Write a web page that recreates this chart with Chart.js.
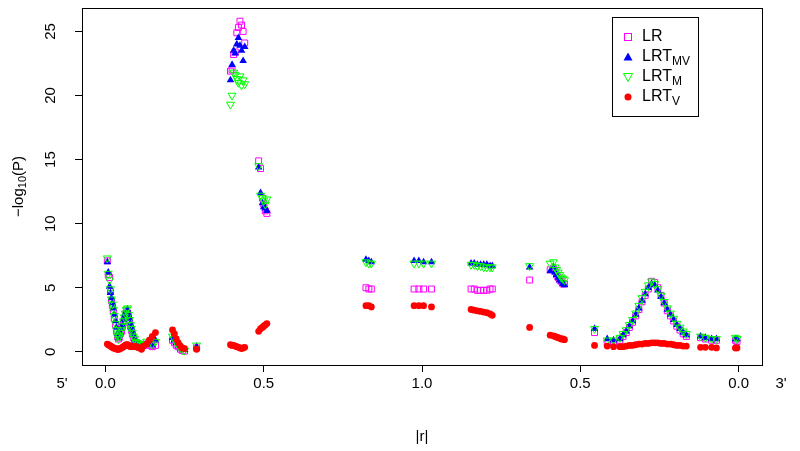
<!DOCTYPE html>
<html>
<head>
<meta charset="utf-8">
<script src="https://cdn.jsdelivr.net/npm/chart.js@4.4.1/dist/chart.umd.min.js"></script>
<style>
  html, body { margin: 0; padding: 0; background: #fff; }
</style>
</head>
<body>
<canvas id="myChart" width="800" height="451"></canvas>
<script>
// positions along the folded |r| axis (0 -> 1 -> 0, drawn as 0..2)
var pos = [
  0.006, 0.009, 0.013, 0.016, 0.019, 0.022, 0.025, 0.028, 0.032, 0.035,
  0.038, 0.041, 0.044, 0.047, 0.051, 0.054, 0.057, 0.060, 0.063, 0.066,
  0.070, 0.073, 0.076, 0.079, 0.082, 0.085, 0.088, 0.092, 0.095, 0.101,
  0.107, 0.114, 0.120, 0.130, 0.139, 0.148, 0.158,
  0.212, 0.218, 0.224, 0.230, 0.237, 0.243, 0.250, 0.288,
  0.395, 0.400, 0.405, 0.410, 0.415, 0.420, 0.425, 0.430, 0.435, 0.440,
  0.484, 0.490, 0.496, 0.500, 0.505, 0.510,
  0.823, 0.832, 0.840,
  0.975, 0.990, 1.005, 1.030,
  1.155, 1.165, 1.175, 1.185, 1.195, 1.205, 1.215, 1.222,
  1.340,
  1.405, 1.415, 1.420, 1.425, 1.430, 1.435, 1.440, 1.445, 1.450,
  1.545, 1.585, 1.605,
  1.625, 1.635, 1.645, 1.655, 1.665, 1.675, 1.685, 1.695, 1.705, 1.715, 1.725,
  1.735, 1.745, 1.755, 1.765, 1.775, 1.785, 1.795, 1.805, 1.815, 1.825, 1.835,
  1.880, 1.895, 1.915, 1.930, 1.990, 1.995
];

var lrVals = [
  7.1, 6.0, 5.8, 4.7, 4.0, 3.6, 3.2, 2.6, 2.1, 1.6,
  1.2, 1.0, 1.1, 1.4, 1.6, 2.0, 2.3, 2.6, 2.9, 3.2,
  3.0, 2.8, 2.4, 2.0, 1.7, 1.4, 1.1, 0.9, 0.7, 0.6,
  0.5, 0.45, 0.5, 0.6, 0.5, 0.4, 0.5,
  0.9, 0.7, 0.5, 0.4, 0.2, 0.1, 0.05, 0.3,
  21.9, 22.0, 23.2, 23.4, 24.9, 25.3, 25.8, 25.5, 25.0, 24.1,
  14.9, 14.3, 12.0, 11.5, 11.0, 10.8,
  5.0, 4.9, 4.9,
  4.9, 4.9, 4.9, 4.9,
  4.9, 4.9, 4.8, 4.8, 4.8, 4.8, 4.9, 4.9,
  5.6,
  6.4, 6.5, 6.3, 6.0, 5.8, 5.6, 5.5, 5.3, 5.3,
  1.5, 0.7, 0.7,
  0.9, 1.2, 1.5, 1.9, 2.3, 2.8, 3.3, 3.9, 4.4, 4.9, 5.5,
  5.4, 5.0, 4.4, 3.8, 3.2, 2.8, 2.4, 2.0, 1.7, 1.4, 1.2,
  1.1, 1.0, 0.9, 0.9, 0.9, 0.8
];

var mvVals = [
  7.0, 6.2, 5.1, 4.6, 4.2, 3.8, 3.4, 2.9, 2.4, 1.9,
  1.4, 1.1, 1.3, 1.5, 1.8, 2.1, 2.5, 2.8, 3.0, 3.2,
  3.3, 2.9, 2.6, 2.2, 1.9, 1.6, 1.3, 1.0, 0.8, 0.7,
  0.6, 0.5, 0.6, 0.7, 0.6, 0.5, 0.9,
  1.1, 0.9, 0.7, 0.5, 0.3, 0.2, 0.15, 0.4,
  21.2, 22.4, 23.5, 23.3, 24.0, 24.5, 23.9, 23.5, 22.7, 23.8,
  14.4, 12.4, 11.6, 11.3, 11.2, 11.0,
  7.2, 7.1, 7.0,
  7.1, 7.1, 7.0, 7.0,
  6.9, 6.9, 6.8, 6.8, 6.8, 6.8, 6.7, 6.7,
  6.6,
  6.3, 6.6, 6.2, 6.0, 5.8, 5.6, 5.5, 5.3, 5.2,
  1.8, 1.0, 0.9,
  1.0, 1.3, 1.6, 2.0, 2.4, 2.9, 3.4, 4.0, 4.5, 5.0, 5.3,
  5.2, 4.8, 4.3, 3.8, 3.3, 2.9, 2.5, 2.1, 1.8, 1.5, 1.3,
  1.2, 1.1, 1.0, 1.0, 1.0, 1.0
];

var mVals = [
  7.3, 6.1, 5.6, 4.9, 4.1, 3.7, 3.3, 2.8, 2.2, 1.7,
  1.3, 1.0, 1.2, 1.5, 1.7, 2.0, 2.4, 2.7, 3.0, 3.3,
  3.4, 2.9, 2.5, 2.1, 1.8, 1.5, 1.2, 1.0, 0.8, 0.7,
  0.6, 0.55, 0.6, 0.8, 0.7, 0.6, 0.8,
  1.2, 1.0, 0.7, 0.5, 0.3, 0.15, 0.1, 0.5,
  19.3, 20.0, 21.8, 21.6, 21.3, 21.0, 21.5, 20.8, 21.2, 20.9,
  14.5, 12.2, 12.0, 11.8, 11.5, 11.9,
  7.0, 6.9, 6.9,
  6.9, 6.9, 6.9, 6.9,
  6.8, 6.8, 6.7, 6.7, 6.6, 6.6, 6.6, 6.6,
  6.7,
  6.9, 7.0, 6.6, 6.4, 6.2, 6.0, 5.8, 5.7, 5.6,
  1.8, 0.9, 0.9,
  1.1, 1.4, 1.7, 2.1, 2.5, 3.0, 3.6, 4.2, 4.7, 5.2, 5.5,
  5.3, 4.9, 4.4, 3.9, 3.4, 3.0, 2.6, 2.2, 1.9, 1.6, 1.4,
  1.2, 1.1, 1.0, 1.0, 1.1, 1.0
];

var vVals = [
  0.60, 0.55, 0.50, 0.45, 0.40, 0.35, 0.30, 0.28, 0.25, 0.22,
  0.20, 0.20, 0.22, 0.25, 0.30, 0.35, 0.40, 0.45, 0.50, 0.55,
  0.55, 0.50, 0.45, 0.42, 0.40, 0.40, 0.42, 0.45, 0.40, 0.35,
  0.30, 0.20, 0.45, 0.60, 0.90, 1.20, 1.50,
  1.70, 1.40, 1.00, 0.70, 0.45, 0.30, 0.25, 0.20,
  0.55, 0.50, 0.50, 0.45, 0.40, 0.35, 0.30, 0.25, 0.30, 0.35,
  1.60, 1.80, 1.90, 2.00, 2.10, 2.20,
  3.6, 3.6, 3.5,
  3.6, 3.6, 3.6, 3.5,
  3.30, 3.25, 3.20, 3.15, 3.10, 3.05, 2.95, 2.85,
  1.90,
  1.30, 1.25, 1.20, 1.15, 1.10, 1.05, 1.00, 1.00, 0.95,
  0.50, 0.45, 0.40,
  0.40, 0.40, 0.45, 0.50, 0.50, 0.55, 0.60, 0.60, 0.65, 0.65, 0.70,
  0.70, 0.70, 0.65, 0.65, 0.60, 0.60, 0.55, 0.50, 0.50, 0.45, 0.45,
  0.35, 0.35, 0.35, 0.30, 0.30, 0.30
];

var xTickVals = [0, 0.5, 1, 1.5, 2];
var xTickLabels = ['0.0', '0.5', '1.0', '0.5', '0.0'];
var yTickVals = [0, 5, 10, 15, 20, 25];

var FONT = '"Liberation Sans", Arial, Helvetica, sans-serif';

function toPoints(vals) {
    return pos.map(function (x, i) { return { x: x, y: vals[i] }; });
}

// box, rotated y labels, titles, end labels and the legend (R style)
var framePlugin = {
    id: 'frame',
    afterDraw: function (c) {
        var ctx = c.ctx;
        var a = c.chartArea;
        var ys = c.scales.y;
        ctx.save();
        ctx.strokeStyle = '#000';
        ctx.lineWidth = 1;
        ctx.strokeRect(Math.round(a.left) + 0.5, Math.round(a.top) + 0.5,
                       Math.round(a.right - a.left), Math.round(a.bottom - a.top));

        ctx.fillStyle = '#000';
        ctx.font = '15px ' + FONT;
        ctx.textAlign = 'center';
        ctx.textBaseline = 'middle';
        // y tick labels, parallel to the axis
        ys.ticks.forEach(function (t) {
            var py = ys.getPixelForValue(t.value);
            ctx.save();
            ctx.translate(51, py);
            ctx.rotate(-Math.PI / 2);
            ctx.fillText(String(t.value), 0, 0);
            ctx.restore();
        });

        // y title: -log10(P)
        ctx.save();
        ctx.translate(19, (a.top + a.bottom) / 2);
        ctx.rotate(-Math.PI / 2);
        var big = '15px ' + FONT, small = '11px ' + FONT;
        ctx.font = big; var w1 = ctx.measureText('\u2212log').width;
        ctx.font = small; var w2 = ctx.measureText('10').width;
        ctx.font = big; var w3 = ctx.measureText('(P)').width;
        var sx = -(w1 + w2 + w3) / 2;
        ctx.textAlign = 'left';
        ctx.font = big; ctx.fillText('\u2212log', sx, 0);
        ctx.font = small; ctx.fillText('10', sx + w1, 4);
        ctx.font = big; ctx.fillText('(P)', sx + w1 + w2, 0);
        ctx.restore();

        // x title and strand ends
        ctx.font = '15px ' + FONT;
        ctx.textAlign = 'center';
        ctx.fillText('|r|', (a.left + a.right) / 2, 437);
        ctx.fillText("5'", 62, 384);
        ctx.fillText("3'", 781, 384);

        // legend
        var lx = 612, ly = 17, lw = 86, lh = 99;
        ctx.fillStyle = '#fff';
        ctx.fillRect(lx, ly, lw, lh);
        ctx.strokeStyle = '#000';
        ctx.strokeRect(lx + 0.5, ly + 0.5, lw, lh);
        var rows = [
            { main: 'LR', sub: '', sym: 'square', col: '#FF00FF' },
            { main: 'LRT', sub: 'MV', sym: 'tri', col: '#0000FF' },
            { main: 'LRT', sub: 'M', sym: 'dtri', col: '#00FF00' },
            { main: 'LRT', sub: 'V', sym: 'dot', col: '#FF0000' }
        ];
        rows.forEach(function (r, i) {
            var cy = 37 + i * 20, cx = 628;
            ctx.beginPath();
            ctx.lineWidth = 1;
            if (r.sym === 'square') {
                ctx.strokeStyle = r.col;
                ctx.strokeRect(cx - 3.5, cy - 3.5, 7, 7);
            } else if (r.sym === 'tri') {
                ctx.fillStyle = r.col;
                ctx.moveTo(cx, cy - 4.5); ctx.lineTo(cx + 4.5, cy + 3.5); ctx.lineTo(cx - 4.5, cy + 3.5);
                ctx.closePath(); ctx.fill();
            } else if (r.sym === 'dtri') {
                ctx.strokeStyle = r.col;
                ctx.moveTo(cx, cy + 4.5); ctx.lineTo(cx + 4.5, cy - 3.5); ctx.lineTo(cx - 4.5, cy - 3.5);
                ctx.closePath(); ctx.stroke();
            } else {
                ctx.fillStyle = r.col;
                ctx.arc(cx, cy, 3.5, 0, Math.PI * 2); ctx.fill();
            }
            ctx.fillStyle = '#000';
            ctx.textAlign = 'left';
            ctx.font = '16px ' + FONT;
            ctx.fillText(r.main, 642, cy);
            if (r.sub) {
                var mw = ctx.measureText(r.main).width;
                ctx.font = '12px ' + FONT;
                ctx.fillText(r.sub, 642 + mw, cy + 5);
            }
        });
        ctx.restore();
    }
};

var ctx = document.getElementById('myChart').getContext('2d');
var chart = new Chart(ctx, {
    type: 'scatter',
    data: {
        datasets: [{
            label: 'LR',
            data: toPoints(lrVals),
            pointStyle: 'rect',
            pointRadius: 4.2,
            borderColor: '#FF00FF',
            backgroundColor: 'rgba(0,0,0,0)',
            borderWidth: 1,
            order: 4
        }, {
            label: 'LRT_MV',
            data: toPoints(mvVals),
            pointStyle: 'triangle',
            pointRadius: 4.4,
            borderColor: '#0000FF',
            backgroundColor: '#0000FF',
            borderWidth: 0,
            order: 3
        }, {
            label: 'LRT_M',
            data: toPoints(mVals),
            pointStyle: 'triangle',
            rotation: 180,
            pointRadius: 4.6,
            borderColor: '#00FF00',
            backgroundColor: 'rgba(0,0,0,0)',
            borderWidth: 1,
            order: 2
        }, {
            label: 'LRT_V',
            data: toPoints(vVals),
            pointStyle: 'circle',
            pointRadius: 3.4,
            borderColor: '#FF0000',
            backgroundColor: '#FF0000',
            borderWidth: 0,
            order: 1
        }]
    },
    options: {
        responsive: false,
        animation: false,
        layout: { padding: { left: 0, right: 38, top: 8, bottom: 0 } },
        plugins: {
            legend: { display: false },
            tooltip: { enabled: false }
        },
        scales: {
            x: {
                type: 'linear',
                min: -0.074,
                max: 2.074,
                afterBuildTicks: function (s) {
                    s.ticks = xTickVals.map(function (v) { return { value: v }; });
                },
                afterFit: function (s) { s.height = 86; },
                ticks: {
                    autoSkip: false,
                    maxRotation: 0,
                    padding: 3,
                    color: '#000',
                    font: { family: FONT, size: 15 },
                    callback: function (v) { return xTickLabels[xTickVals.indexOf(v)]; }
                },
                grid: { display: true, drawOnChartArea: false, drawTicks: true, tickLength: 7, color: '#000' },
                border: { display: true, color: '#000' }
            },
            y: {
                type: 'linear',
                min: -1.03,
                max: 26.83,
                afterBuildTicks: function (s) {
                    s.ticks = yTickVals.map(function (v) { return { value: v }; });
                },
                afterFit: function (s) { s.width = 82; },
                ticks: { display: false },
                grid: { display: true, drawOnChartArea: false, drawTicks: true, tickLength: 7, color: '#000' },
                border: { display: true, color: '#000' }
            }
        }
    },
    plugins: [framePlugin]
});
</script>
</body>
</html>
